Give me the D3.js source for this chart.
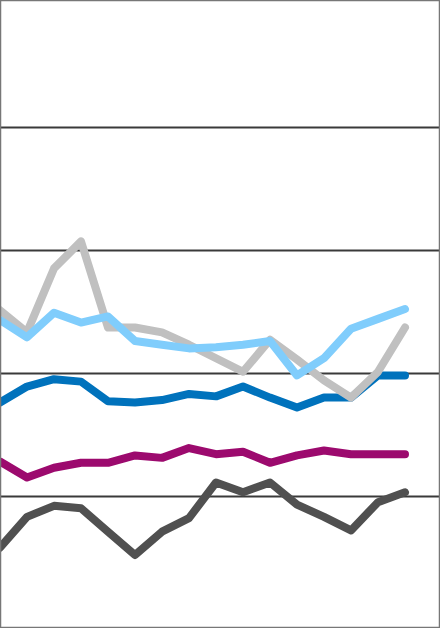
<!DOCTYPE html>
<html><head><meta charset="utf-8">
<script src="https://cdn.jsdelivr.net/npm/d3@7"></script>
<style>html,body{margin:0;padding:0;background:#fff;overflow:hidden}svg{display:block}</style>
</head><body>
<svg id="c" width="440" height="628"></svg>
<script>
const periods = d3.range(16).map(i => "P" + (i + 1));
const tickValues = [10, 20, 30, 40];
const darkGray  = [5.8, 8.3, 9.2, 9.0, 7.1, 5.2, 7.1, 8.2, 11.1, 10.3, 11.1, 9.3, 8.3, 7.2, 9.5, 10.3];
const magenta   = [12.8, 11.5, 12.3, 12.7, 12.7, 13.3, 13.1, 13.9, 13.4, 13.6, 12.7, 13.3, 13.7, 13.4, 13.4, 13.4];
const darkBlue  = [17.6, 18.9, 19.5, 19.3, 17.7, 17.6, 17.8, 18.3, 18.1, 18.9, 18.0, 17.2, 18.0, 18.0, 19.8, 19.8];
const lightGray = [25.1, 23.3, 28.5, 30.7, 23.7, 23.7, 23.3, 22.3, 21.2, 20.1, 22.7, 21.1, 19.4, 18.0, 20.1, 23.7];
const lightBlue = [24.3, 22.9, 24.9, 24.1, 24.6, 22.6, 22.3, 22.0, 22.1, 22.3, 22.6, 19.8, 21.2, 23.6, 24.4, 25.2];

const W = 440, H = 628;
const svg = d3.select("#c");
const x = d3.scalePoint().domain(periods).range([0, 405]);
const y = d3.scaleLinear().domain([10, 40]).range([496, 127]);

// gridlines
svg.append("g").attr("transform", "translate(0,0)")
  .call(d3.axisLeft(y).tickValues(tickValues).tickSize(-W).tickFormat(""))
  .call(g => g.select(".domain").remove())
  .call(g => g.selectAll(".tick line").attr("stroke", "#3a3a3a").attr("stroke-width", 2));

const line = d3.line().x((d, i) => x(periods[i])).y(d => y(d));
const series = [
  {v: darkGray, c: "#505050"},
  {v: magenta, c: "#9c0a6e"},
  {v: darkBlue, c: "#0072bc"},
  {v: lightGray, c: "#c0c0c0"},
  {v: lightBlue, c: "#80cdfc"}
];
svg.append("g").selectAll("path").data(series).join("path")
  .attr("d", d => line(d.v))
  .attr("fill", "none")
  .attr("stroke", d => d.c)
  .attr("stroke-width", 8)
  .attr("stroke-linejoin", "round")
  .attr("stroke-linecap", "round");

// border
svg.append("rect").attr("x", 0.5).attr("y", 0.5).attr("width", W - 1).attr("height", H - 1)
  .attr("fill", "none").attr("stroke", "#777").attr("stroke-width", 1.5);
</script>
</body></html>
